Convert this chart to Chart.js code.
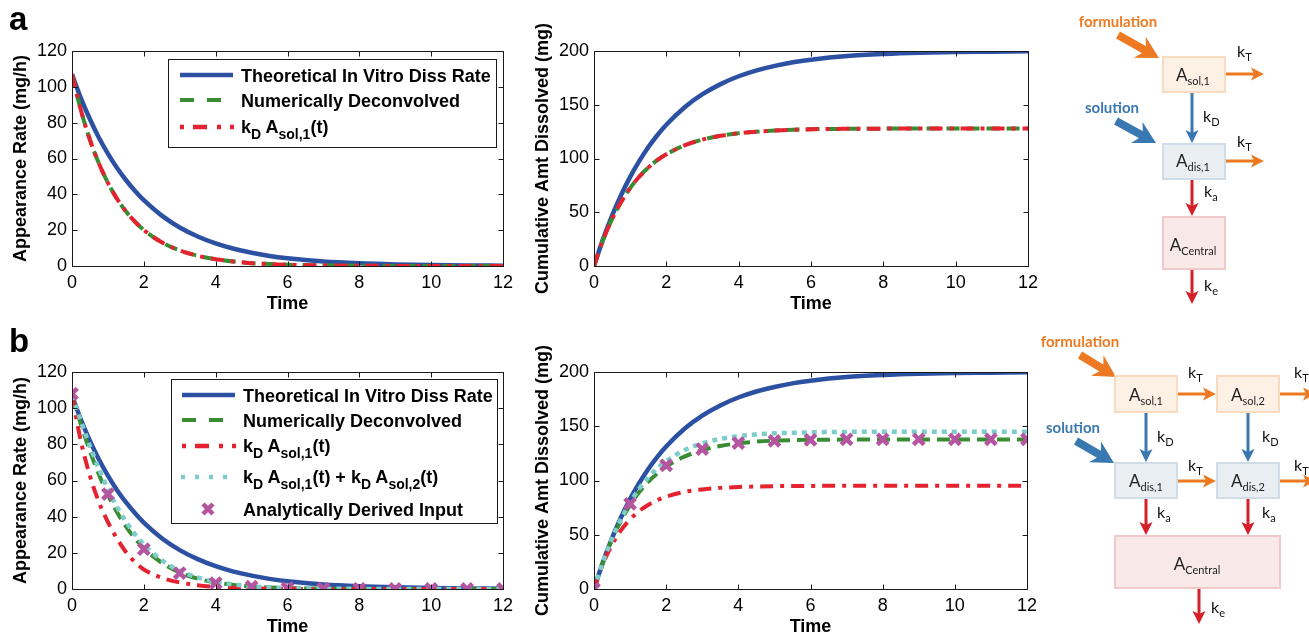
<!DOCTYPE html>
<html><head><meta charset="utf-8">
<script src="https://cdn.jsdelivr.net/npm/chart.js@4.4.1/dist/chart.umd.min.js"></script>
<style>
html,body{margin:0;padding:0;background:#fff;overflow:hidden;}
#page{position:relative;width:1309px;height:634px;overflow:hidden;}
canvas{position:absolute;}
#ov{position:absolute;left:0;top:0;}
</style></head><body><div id="page">
<canvas id="c1" width="530" height="320" style="left:0;top:0"></canvas>
<canvas id="c2" width="530" height="320" style="left:522px;top:0"></canvas>
<canvas id="c3" width="530" height="323" style="left:0;top:320px"></canvas>
<canvas id="c4" width="530" height="323" style="left:522px;top:320px"></canvas>
<svg id="ov" width="1309" height="634" xmlns="http://www.w3.org/2000/svg"></svg>
</div>
<script>
// ---------------- DATA ----------------
const timeGrid = [0,0.25,0.5,0.75,1,1.25,1.5,1.75,2,2.5,3,3.5,4,4.5,5,5.5,6,7,8,9,10,11,12];
const markerTimes = [0,1,2,3,4,5,6,7,8,9,10,11,12];
const xTicks = [0,2,4,6,8,10,12];
const rateTicks = [0,20,40,60,80,100,120];
const cumTicks = [0,50,100,150,200];

// panel a
const aRateTheory = [107,93.6,81.9,71.6,62.7,54.8,48.0,42.0,36.7,28.1,21.5,16.5,12.6,9.6,7.4,5.6,4.3,2.5,1.5,0.9,0.5,0.3,0.2];
const aRateDeconv = [107,86.8,70.4,57.2,46.4,37.6,30.5,24.8,20.1,13.2,8.7,5.7,3.8,2.5,1.6,1.1,0.7,0.3,0.13,0.06,0.03,0.01,0];
const aRateSol1   = [107,86.8,70.4,57.2,46.4,37.6,30.5,24.8,20.1,13.2,8.7,5.7,3.8,2.5,1.6,1.1,0.7,0.3,0.13,0.06,0.03,0.01,0];
const aCumTheory  = [0,25.0,46.9,66.1,82.9,97.5,110.4,121.6,131.4,147.5,159.8,169.2,176.5,182.0,186.2,189.5,191.9,195.3,197.2,198.4,199.1,199.4,199.7];
const aCumDeconv  = [0,24.1,43.7,59.6,72.5,83.0,91.5,98.4,103.9,112.2,117.6,121.1,123.5,125.0,126.0,126.7,127.2,127.6,127.8,127.9,128,128,128];
const aCumSol1    = [0,24.1,43.7,59.6,72.5,83.0,91.5,98.4,103.9,112.2,117.6,121.1,123.5,125.0,126.0,126.7,127.2,127.6,127.8,127.9,128,128,128];

// panel b
const bRateTheory = [107,93.6,81.9,71.6,62.7,54.8,48.0,42.0,36.7,28.1,21.5,16.5,12.6,9.6,7.4,5.6,4.3,2.5,1.5,0.9,0.5,0.3,0.2];
const bRateDeconv = [107,90.9,76.2,63.3,52.1,42.6,34.6,28.0,22.6,14.5,9.1,5.7,3.6,2.2,1.35,0.8,0.5,0.18,0.07,0.02,0.01,0,0];
const bRateSol1   = [107,81.5,62.5,48.0,37.0,28.0,20.5,14.9,10.8,6.2,3.6,2.1,1.2,0.7,0.4,0.2,0.1,0.04,0.01,0,0,0,0];
const bRateSolSum = [107,92.7,79.0,66.4,55.2,45.5,37.3,30.4,24.6,15.9,10.1,6.4,4.0,2.5,1.5,0.9,0.57,0.21,0.08,0.03,0.01,0,0];
const bRateAnalytic = [108,52.5,22,8.8,3.3,1.3,0.5,0.2,0.1,0,0,0,0];
const bCumTheory  = [0,25.0,46.9,66.1,82.9,97.5,110.4,121.6,131.4,147.5,159.8,169.2,176.5,182.0,186.2,189.5,191.9,195.3,197.2,198.4,199.1,199.4,199.7];
const bCumDeconv  = [0,24.7,45.5,63.0,77.3,89.1,98.8,106.5,112.9,122.0,127.9,131.8,134.3,135.8,136.7,137.2,137.5,137.7,137.8,137.8,137.8,137.8,137.8];
const bCumSol1    = [0,23.3,40.9,54.2,64.2,71.8,77.5,81.8,85.1,89.4,91.8,93.2,94.0,94.5,94.8,94.9,95.0,95.1,95.1,95.1,95.1,95.1,95.1];
const bCumSolSum  = [0,24.9,46.4,64.5,79.7,92.3,102.6,111.0,117.9,127.9,134.2,138.3,140.8,142.5,143.5,144.0,144.4,144.8,144.9,145,145,145,145];
const bCumAnalytic = [0,78.5,114,129,134.5,136.5,137.5,138,138,138,138,138,138];

// ---------------- STYLE ----------------
const FAM = '"Liberation Sans", Arial, Helvetica, sans-serif';
const BLUE = '#2c51a3', GREEN = '#3a8c32', RED = '#e52330', CYAN = '#7dcdcd', MAG = '#b5549f';
Chart.defaults.font.family = FAM;
Chart.defaults.color = '#000';

const boxPlugin = {
  id: 'boxTicks',
  afterDraw(chart) {
    const {ctx, chartArea: a, scales: {x, y}} = chart;
    ctx.save();
    ctx.strokeStyle = '#1a1a1a'; ctx.lineWidth = 1;
    const L = Math.round(a.left) + 0.5, R = Math.round(a.right) + 0.5, T = Math.round(a.top) + 0.5, B = Math.round(a.bottom) + 0.5;
    ctx.strokeRect(L, T, R - L, B - T);
    ctx.beginPath();
    x.ticks.forEach(t => {
      const p = Math.round(x.getPixelForValue(t.value)) + 0.5;
      ctx.moveTo(p, B); ctx.lineTo(p, B - 5);
      ctx.moveTo(p, T); ctx.lineTo(p, T + 5);
    });
    y.ticks.forEach(t => {
      const p = Math.round(y.getPixelForValue(t.value)) + 0.5;
      ctx.moveTo(L, p); ctx.lineTo(L + 5, p);
      ctx.moveTo(R, p); ctx.lineTo(R - 5, p);
    });
    ctx.stroke();
    ctx.restore();
  }
};

function pts(xs, ys) { return xs.map((x, i) => ({x, y: ys[i]})); }
function lineDs(label, ys, color, width, dash) {
  return {label, data: pts(timeGrid, ys), borderColor: color, backgroundColor: color,
    borderWidth: width, borderDash: dash || [], pointRadius: 0, fill: false,
    cubicInterpolationMode: 'monotone'};
}
function markerDs(label, ys) {
  return {label, data: pts(markerTimes, ys), showLine: false, pointStyle: 'crossRot',
    pointRadius: 7.5, pointBorderWidth: 4.5, borderColor: MAG, backgroundColor: MAG,
    pointBorderColor: MAG, pointBackgroundColor: MAG};
}
function makeChart(id, datasets, yTicks, yTitle, pad) {
  const yMax = yTicks[yTicks.length - 1], yStep = yTicks[1] - yTicks[0];
  return new Chart(document.getElementById(id), {
    type: 'line',
    data: {datasets},
    options: {
      responsive: false, animation: false, devicePixelRatio: 1,
      layout: {padding: pad},
      plugins: {legend: {display: false}, tooltip: {enabled: false}},
      scales: {
        x: {type: 'linear', min: xTicks[0], max: xTicks[xTicks.length - 1],
          grid: {display: false, drawTicks: false}, border: {display: false},
          ticks: {stepSize: xTicks[1] - xTicks[0], padding: 6, font: {size: 18}, color: '#000'},
          title: {display: true, text: 'Time', font: {size: 18, weight: 'bold'}, color: '#000', padding: {top: 0, bottom: 5}},
          afterFit(s) { s.height = 54; }},
        y: {type: 'linear', min: 0, max: yMax,
          grid: {display: false, drawTicks: false}, border: {display: false},
          ticks: {stepSize: yStep, padding: 5, font: {size: 18}, color: '#000'},
          title: {display: true, text: yTitle, font: {size: 18, weight: 'bold'}, color: '#000', padding: {top: 10, bottom: 0}},
          afterFit(s) { s.width = 72; }}
      }
    },
    plugins: [boxPlugin]
  });
}

const DASH = [13, 7], DASHDOT = [13, 7, 4, 7], DOT = [5, 5];
makeChart('c1', [
  lineDs('kD Asol,1(t)', aRateSol1, RED, 4, DASHDOT),
  lineDs('Numerically Deconvolved', aRateDeconv, GREEN, 4, DASH),
  lineDs('Theoretical In Vitro Diss Rate', aRateTheory, BLUE, 4.5)
], rateTicks, 'Appearance Rate (mg/h)', {top: 51, left: 0, right: 27, bottom: 0});

makeChart('c2', [
  lineDs('kD Asol,1(t)', aCumSol1, RED, 4, DASHDOT),
  lineDs('Numerically Deconvolved', aCumDeconv, GREEN, 4, DASH),
  lineDs('Theoretical In Vitro Diss Rate', aCumTheory, BLUE, 4.5)
], cumTicks, 'Cumulative Amt Dissolved (mg)', {top: 51, left: 0, right: 24, bottom: 0});

makeChart('c3', [
  markerDs('Analytically Derived Input', bRateAnalytic),
  lineDs('kD Asol,1(t) + kD Asol,2(t)', bRateSolSum, CYAN, 4.5, DOT),
  lineDs('kD Asol,1(t)', bRateSol1, RED, 4, DASHDOT),
  lineDs('Numerically Deconvolved', bRateDeconv, GREEN, 4, DASH),
  lineDs('Theoretical In Vitro Diss Rate', bRateTheory, BLUE, 4.5)
], rateTicks, 'Appearance Rate (mg/h)', {top: 52, left: 0, right: 27, bottom: 0});

makeChart('c4', [
  markerDs('Analytically Derived Input', bCumAnalytic),
  lineDs('kD Asol,1(t) + kD Asol,2(t)', bCumSolSum, CYAN, 4.5, DOT),
  lineDs('kD Asol,1(t)', bCumSol1, RED, 4, DASHDOT),
  lineDs('Numerically Deconvolved', bCumDeconv, GREEN, 4, DASH),
  lineDs('Theoretical In Vitro Diss Rate', bCumTheory, BLUE, 4.5)
], cumTicks, 'Cumulative Amt Dissolved (mg)', {top: 52, left: 0, right: 25, bottom: 0});

// ---------------- OVERLAY: panel letters, legends, diagrams ----------------
const SVGFAM = 'Liberation Sans, Arial, Helvetica, sans-serif';
const DFAM = 'Lato, Open Sans, sans-serif';
let s = '';
function rich(x, y, parts, o) {
  const size = o.size, sub = o.sub, off = o.off;
  let out = `<text x="${x}" y="${y}" font-family="${o.fam}" font-size="${size}" font-weight="${o.weight || 'normal'}" fill="${o.fill || '#000'}" text-anchor="${o.anchor || 'start'}" style="white-space:pre">`;
  let shift = 0;
  parts.forEach(p => {
    const isSub = Array.isArray(p);
    const txt = isSub ? p[0] : p;
    const target = isSub ? off : 0;
    const dy = target - shift; shift = target;
    out += `<tspan dy="${dy}"${isSub ? ` font-size="${sub}"` : ''}>${txt}</tspan>`;
  });
  return out + '</text>';
}
const LG = {fam: SVGFAM, size: 18, sub: 14, off: 6, weight: 'bold'};
function lgLine(x1, x2, y, color, w, dash) {
  return `<line x1="${x1}" y1="${y}" x2="${x2}" y2="${y}" stroke="${color}" stroke-width="${w}"${dash ? ` stroke-dasharray="${dash}"` : ''}/>`;
}
function lgMarker(cx, cy) {
  const r = 5;
  return `<path d="M${cx - r} ${cy - r}L${cx + r} ${cy + r}M${cx + r} ${cy - r}L${cx - r} ${cy + r}" stroke="${MAG}" stroke-width="4.5"/>`;
}

// panel letters
s += `<text x="9" y="30" font-family="${SVGFAM}" font-size="33" font-weight="bold">a</text>`;
s += `<text x="9" y="352" font-family="${SVGFAM}" font-size="33" font-weight="bold">b</text>`;

// legend a
s += `<rect x="168.5" y="59.5" width="328" height="88" fill="#fff" stroke="#1a1a1a"/>`;
s += lgLine(180, 233, 75, BLUE, 4.5);
s += rich(241, 81.5, ['Theoretical In Vitro Diss Rate'], LG);
s += lgLine(180, 233, 100, GREEN, 4, '14 13');
s += rich(241, 106.5, ['Numerically Deconvolved'], LG);
s += lgLine(180, 234, 127, RED, 4.5, '4 9 14 10 4 9 4');
s += rich(241, 133, ['k', ['D'], ' A', ['sol,1'], '(t)'], LG);

// legend b
s += `<rect x="171.5" y="379.5" width="326" height="144" fill="#fff" stroke="#1a1a1a"/>`;
s += lgLine(182, 235, 395, BLUE, 4.5);
s += rich(243, 401.5, ['Theoretical In Vitro Diss Rate'], LG);
s += lgLine(182, 235, 420, GREEN, 4, '14 13');
s += rich(243, 426.5, ['Numerically Deconvolved'], LG);
s += lgLine(182, 236, 446, RED, 4.5, '4 9 14 10 4 9 4');
s += rich(243, 452, ['k', ['D'], ' A', ['sol,1'], '(t)'], LG);
s += lgLine(181, 236, 477, CYAN, 4.5, '4 10');
s += rich(243, 483, ['k', ['D'], ' A', ['sol,1'], '(t) + k', ['D'], ' A', ['sol,2'], '(t)'], LG);
s += lgMarker(208, 509);
s += rich(243, 515.5, ['Analytically Derived Input'], LG);

// diagrams
const ORANGE = '#ed7a22', DBLUE = '#3a78b1', DRED = '#d51f2b';
function arrow(x1, y1, x2, y2, color, shaft, hl, hw, notch) {
  const dx = x2 - x1, dy = y2 - y1, L = Math.hypot(dx, dy), ux = dx / L, uy = dy / L, nx = -uy, ny = ux;
  const bx = x2 - ux * hl, by = y2 - uy * hl;
  const mx = bx + ux * notch, my = by + uy * notch;
  let o = `<line x1="${x1}" y1="${y1}" x2="${mx + ux}" y2="${my + uy}" stroke="${color}" stroke-width="${shaft}"/>`;
  o += `<polygon points="${x2},${y2} ${bx + nx * hw / 2},${by + ny * hw / 2} ${mx},${my} ${bx - nx * hw / 2},${by - ny * hw / 2}" fill="${color}"/>`;
  return o;
}
const thin = (x1, y1, x2, y2, c) => arrow(x1, y1, x2, y2, c, 3, 13, 13, 3);
const thick = (x1, y1, x2, y2, c) => arrow(x1, y1, x2, y2, c, 8, 22, 24, 7);
function box(x, y, w, h, fill, stroke) {
  return `<rect x="${x}" y="${y}" width="${w}" height="${h}" fill="${fill}" stroke="${stroke}" stroke-width="2"/>`;
}
const SOLF = '#fdf1e6', SOLS = '#f9dcbf', DISF = '#e9eef3', DISS = '#d0dce7', CENF = '#f8e8e8', CENS = '#f0caca';
const BT = {fam: DFAM, size: 17, sub: 11, off: 4, fill: '#222', anchor: 'middle'};
const KT = {fam: DFAM, size: 16, sub: 11, off: 4, fill: '#111'};
const LBL = (x, y, t, c) => `<text x="${x}" y="${y}" font-family="${DFAM}" font-size="15" font-weight="bold" fill="${c}" text-anchor="middle">${t}</text>`;

// cover area right of lower chart
s += `<rect x="1040" y="330" width="269" height="304" fill="#fff"/>`;

// top diagram
s += LBL(1118, 27, 'formulation', ORANGE);
s += thick(1118, 35, 1159, 58, ORANGE);
s += LBL(1112, 113, 'solution', DBLUE);
s += thick(1116, 121, 1156, 143, DBLUE);
s += box(1163, 57, 62, 35, SOLF, SOLS);
s += box(1163, 144, 62, 35, DISF, DISS);
s += box(1163, 217, 62, 52, CENF, CENS);
s += rich(1193, 81, ['A', ['sol,1']], BT);
s += rich(1193, 167, ['A', ['dis,1']], BT);
s += rich(1193, 251, ['A', ['Central']], BT);
s += thin(1226, 74, 1264, 74, ORANGE);
s += thin(1226, 161, 1264, 161, ORANGE);
s += thin(1192, 93, 1192, 143, DBLUE);
s += thin(1192, 180, 1192, 216, DRED);
s += thin(1192, 270, 1192, 304, DRED);
s += rich(1237, 57, ['k', ['T']], KT);
s += rich(1237, 147, ['k', ['T']], KT);
s += rich(1203, 122, ['k', ['D']], KT);
s += rich(1204, 197, ['k', ['a']], KT);
s += rich(1204, 291, ['k', ['e']], KT);

// bottom diagram
s += LBL(1080, 347, 'formulation', ORANGE);
s += thick(1080, 355, 1116, 377, ORANGE);
s += LBL(1073, 433, 'solution', DBLUE);
s += thick(1076, 441, 1114, 463, DBLUE);
s += box(1115, 376, 62, 36, SOLF, SOLS);
s += box(1217, 376, 62, 36, SOLF, SOLS);
s += box(1115, 463, 62, 35, DISF, DISS);
s += box(1217, 463, 62, 35, DISF, DISS);
s += box(1115, 536, 165, 52, CENF, CENS);
s += rich(1146, 401, ['A', ['sol,1']], BT);
s += rich(1248, 401, ['A', ['sol,2']], BT);
s += rich(1146, 487, ['A', ['dis,1']], BT);
s += rich(1248, 487, ['A', ['dis,2']], BT);
s += rich(1197, 570, ['A', ['Central']], BT);
s += thin(1178, 394, 1216, 394, ORANGE);
s += thin(1280, 394, 1316, 394, ORANGE);
s += thin(1178, 481, 1216, 481, ORANGE);
s += thin(1280, 481, 1316, 481, ORANGE);
s += thin(1146, 413, 1146, 462, DBLUE);
s += thin(1248, 413, 1248, 462, DBLUE);
s += thin(1146, 499, 1146, 535, DRED);
s += thin(1248, 499, 1248, 535, DRED);
s += thin(1199, 589, 1199, 624, DRED);
s += rich(1188, 378, ['k', ['T']], KT);
s += rich(1294, 378, ['k', ['T']], KT);
s += rich(1188, 471, ['k', ['T']], KT);
s += rich(1294, 471, ['k', ['T']], KT);
s += rich(1157, 442, ['k', ['D']], KT);
s += rich(1262, 442, ['k', ['D']], KT);
s += rich(1157, 518, ['k', ['a']], KT);
s += rich(1262, 518, ['k', ['a']], KT);
s += rich(1211, 613, ['k', ['e']], KT);

document.getElementById('ov').innerHTML = s;
</script>
</body></html>
